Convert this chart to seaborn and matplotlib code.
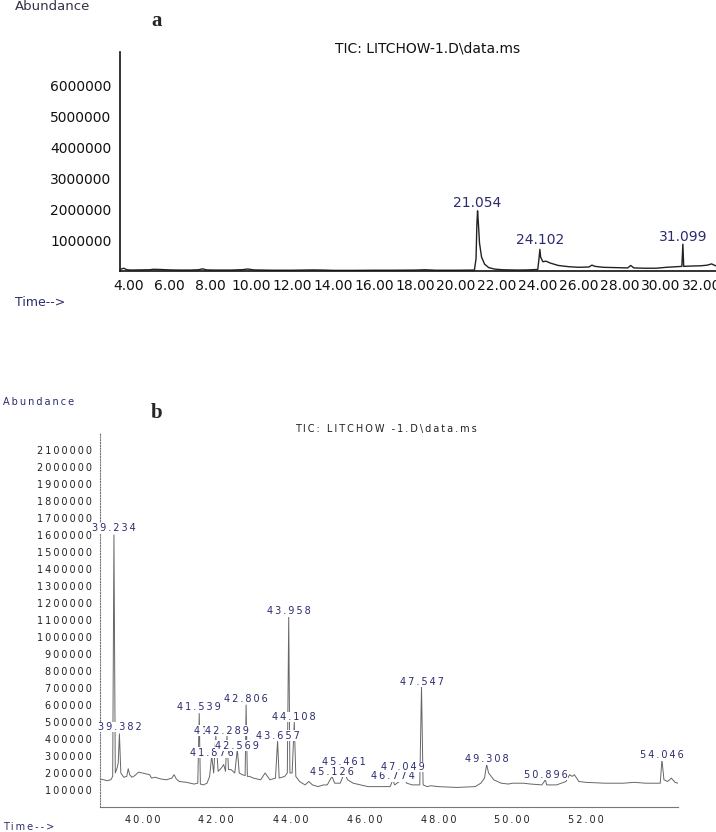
import pandas as pd
import matplotlib.pyplot as plt
import seaborn as sb
from matplotlib.ticker import MultipleLocator, FuncFormatter

# --- chromatogram a (TIC, 4-33 min) ---
a_time = [3.60, 3.75, 3.90, 4.10, 4.50, 5.00, 5.20, 5.50, 6.00, 6.50, 7.00, 7.40, 7.60,
          7.80, 8.20, 9.00, 9.60, 9.80, 10.10, 11.00, 12.00, 13.00, 13.50, 14.00, 15.00,
          16.00, 17.00, 18.00, 18.50, 19.00, 20.00, 20.90, 20.98, 21.02, 21.054, 21.09,
          21.15, 21.25, 21.40, 21.60, 21.90, 22.30, 23.00, 23.50, 24.00, 24.06, 24.102,
          24.14, 24.25, 24.40, 24.60, 25.00, 25.50, 26.00, 26.50, 26.65, 26.80, 27.20,
          27.80, 28.40, 28.55, 28.70, 29.20, 29.80, 30.30, 30.80, 31.05, 31.099, 31.14,
          31.50, 32.00, 32.30, 32.50, 32.70, 33.00]
a_abund = [60000, 90000, 40000, 30000, 35000, 40000, 55000, 50000, 35000, 30000, 30000,
           40000, 70000, 35000, 30000, 30000, 45000, 65000, 35000, 25000, 25000, 35000,
           30000, 20000, 20000, 25000, 25000, 30000, 40000, 25000, 25000, 30000, 400000,
           1500000, 1950000, 1600000, 900000, 450000, 220000, 110000, 60000, 40000, 30000,
           35000, 50000, 400000, 700000, 450000, 300000, 320000, 260000, 180000, 140000,
           120000, 130000, 190000, 150000, 120000, 110000, 100000, 180000, 100000, 90000,
           90000, 120000, 140000, 150000, 870000, 150000, 160000, 170000, 190000, 230000,
           170000, 160000]
a_peaks = ["21.054", "24.102", "31.099"]
a_label_y = [2200000, 1000000, 1100000]

# --- chromatogram b (TIC, 39-54.5 min) ---
b_time = [38.86, 38.95, 39.05, 39.15, 39.20, 39.234, 39.27, 39.32, 39.35, 39.382, 39.42,
          39.50, 39.58, 39.62, 39.66, 39.72, 39.80, 39.90, 40.00, 40.10, 40.20, 40.25,
          40.35, 40.50, 40.65, 40.80, 40.86, 40.92, 41.00, 41.20, 41.40, 41.50, 41.539,
          41.57, 41.65, 41.75, 41.82, 41.876, 41.93, 41.987, 42.05, 42.14, 42.20, 42.25,
          42.289, 42.33, 42.40, 42.50, 42.569, 42.62, 42.70, 42.78, 42.806, 42.84, 42.90,
          43.00, 43.20, 43.32, 43.45, 43.60, 43.657, 43.70, 43.85, 43.92, 43.958, 43.99,
          44.05, 44.108, 44.15, 44.25, 44.40, 44.50, 44.60, 44.75, 44.90, 45.00, 45.126,
          45.20, 45.35, 45.461, 45.55, 45.70, 45.90, 46.10, 46.40, 46.70, 46.774, 46.82,
          46.95, 47.049, 47.15, 47.30, 47.50, 47.547, 47.59, 47.70, 47.80, 48.00, 48.50,
          49.00, 49.15, 49.25, 49.308, 49.36, 49.50, 49.70, 49.90, 50.00, 50.30, 50.50,
          50.80, 50.896, 50.93, 51.20, 51.45, 51.55, 51.62, 51.68, 51.80, 52.00, 52.50,
          53.00, 53.30, 53.60, 54.00, 54.046, 54.10, 54.20, 54.30, 54.40, 54.48]
b_abund = [165000, 160000, 155000, 160000, 180000, 1600000, 200000, 230000, 260000,
           430000, 200000, 175000, 180000, 225000, 190000, 175000, 185000, 205000, 200000,
           195000, 190000, 170000, 175000, 165000, 160000, 170000, 190000, 165000, 150000,
           145000, 135000, 140000, 550000, 135000, 130000, 140000, 180000, 300000, 200000,
           420000, 210000, 230000, 250000, 210000, 420000, 220000, 220000, 200000, 340000,
           200000, 190000, 185000, 600000, 180000, 180000, 170000, 160000, 200000, 160000,
           170000, 390000, 170000, 180000, 200000, 1120000, 200000, 200000, 500000, 180000,
           150000, 130000, 150000, 130000, 120000, 130000, 130000, 180000, 140000, 140000,
           200000, 160000, 140000, 130000, 120000, 120000, 120000, 160000, 130000, 150000,
           170000, 140000, 130000, 130000, 710000, 130000, 120000, 125000, 120000, 115000,
           120000, 140000, 170000, 250000, 200000, 160000, 140000, 135000, 140000, 140000,
           135000, 130000, 160000, 130000, 130000, 150000, 190000, 180000, 190000, 150000,
           145000, 140000, 140000, 145000, 140000, 140000, 280000, 160000, 150000, 170000,
           145000, 140000]
b_peaks = ["39.234", "39.382", "41.539", "41.987", "42.289", "41.876", "42.569", "42.806",
           "43.958", "44.108", "43.657", "45.461", "45.126", "46.774", "47.049", "47.547",
           "49.308", "50.896", "54.046"]
b_label_y = [1640000, 470000, 590000, 450000, 450000, 320000, 360000, 635000, 1150000,
             530000, 420000, 265000, 206000, 180000, 235000, 735000, 280000, 190000, 305000]

df_a = pd.DataFrame({"time": a_time, "abundance": a_abund})
df_b = pd.DataFrame({"time": b_time, "abundance": b_abund})

sb.set_style("white")
plt.rcParams['font.family'] = ['DejaVu Sans']

W, H = 716, 832
navy = '#2b2b70'


def px(x, y):
    return x / W, 1 - y / H


def spaced(s):
    # the instrument software prints its text letter-spaced
    return '\u2009'.join(s)


fig = plt.figure(figsize=(W / 100, H / 100), dpi=100)

# panel a
ax = fig.add_axes([120 / W, 1 - 271 / H, (716 - 120) / W, (271 - 52) / H])
sb.lineplot(data=df_a, x="time", y="abundance", ax=ax, color='#222222', linewidth=1.0)
ax.set_xlim(3.56, 32.72)
ax.set_ylim(0, 7100000)
ax.set_xlabel("")
ax.set_ylabel("")
ax.set_xticks([4, 6, 8, 10, 12, 14, 16, 18, 20, 22, 24, 26, 28, 30, 32])
ax.xaxis.set_minor_locator(MultipleLocator(0.5))
ax.set_yticks([1000000, 2000000, 3000000, 4000000, 5000000, 6000000])
ax.yaxis.set_minor_locator(MultipleLocator(200000))
ax.xaxis.set_major_formatter(FuncFormatter(lambda v, p: f"{v:.2f}"))
ax.yaxis.set_major_formatter(FuncFormatter(lambda v, p: f"{v:.0f}"))
for s in ["top", "right"]:
    ax.spines[s].set_visible(False)
for s in ["left", "bottom"]:
    ax.spines[s].set_color('#111111')
    ax.spines[s].set_linewidth(1.2)
ax.tick_params(axis='both', which='major', direction='out', length=4, width=1,
               labelsize=10, pad=2, colors='#111111')
ax.tick_params(axis='both', which='minor', direction='out', length=2.5, width=0.8,
               colors='#111111')
ax.patch.set_alpha(0)
for name, ly in zip(a_peaks, a_label_y):
    ax.text(float(name), ly, name, ha='center', va='center', fontsize=10, color=navy)

fig.text(*px(15, 7), "Abundance", fontsize=9.5, color='#333344', va='center')
fig.text(*px(157, 21), "a", fontsize=15, fontweight='bold', family='Liberation Serif',
         ha='center', va='center')
fig.text(*px(428, 48), "TIC: LITCHOW-1.D\\data.ms", fontsize=10, ha='center',
         va='center', color='#111111')
fig.text(*px(15, 302), "Time-->", fontsize=9, color=navy, va='center')

# panel b
bx = fig.add_axes([100 / W, 1 - 807 / H, (678 - 100) / W, (807 - 433) / H])
sb.lineplot(data=df_b, x="time", y="abundance", ax=bx, color='#666666', linewidth=0.7)
bx.set_xlim(38.857, 54.48)
bx.set_ylim(0, 2200000)
bx.set_xlabel("")
bx.set_ylabel("")
bx.set_xticks([40, 42, 44, 46, 48, 50, 52])
bx.xaxis.set_minor_locator(MultipleLocator(0.5))
bx.set_yticks(list(range(100000, 2200000, 100000)))
bx.xaxis.set_major_formatter(FuncFormatter(lambda v, p: spaced(f"{v:.2f}")))
bx.yaxis.set_major_formatter(FuncFormatter(lambda v, p: spaced(f"{v:.0f}")))
for s in ["top", "right"]:
    bx.spines[s].set_visible(False)
bx.spines["left"].set_color('#777777')
bx.spines["left"].set_linewidth(0.8)
bx.spines["left"].set_linestyle((0, (1, 1.5)))
bx.spines["bottom"].set_color('#777777')
bx.spines["bottom"].set_linewidth(0.8)
bx.tick_params(axis='both', which='major', direction='out', length=3, width=0.7,
               labelsize=7, pad=3, colors='#777777', labelcolor='#222222')
bx.tick_params(axis='x', which='minor', direction='out', length=2.5, width=0.6,
               colors='#777777')
bx.patch.set_alpha(0)
for name, ly in zip(b_peaks, b_label_y):
    bx.text(float(name), ly, spaced(name), ha='center', va='center', fontsize=7,
            color=navy, zorder=5,
            bbox=dict(facecolor='white', edgecolor='none', pad=0.3))

fig.text(*px(3, 402), spaced("Abundance"), fontsize=7, color=navy, va='center')
fig.text(*px(157, 413), "b", fontsize=15, fontweight='bold', family='Liberation Serif',
         ha='center', va='center')
fig.text(*px(386, 429), spaced("TIC: LITCHOW -1.D\\data.ms"), fontsize=7, ha='center',
         va='center', color='#222222')
fig.text(*px(3, 827), spaced("Time-->"), fontsize=7, color=navy, va='center')

fig.savefig("out.png", dpi=100, facecolor='white')
